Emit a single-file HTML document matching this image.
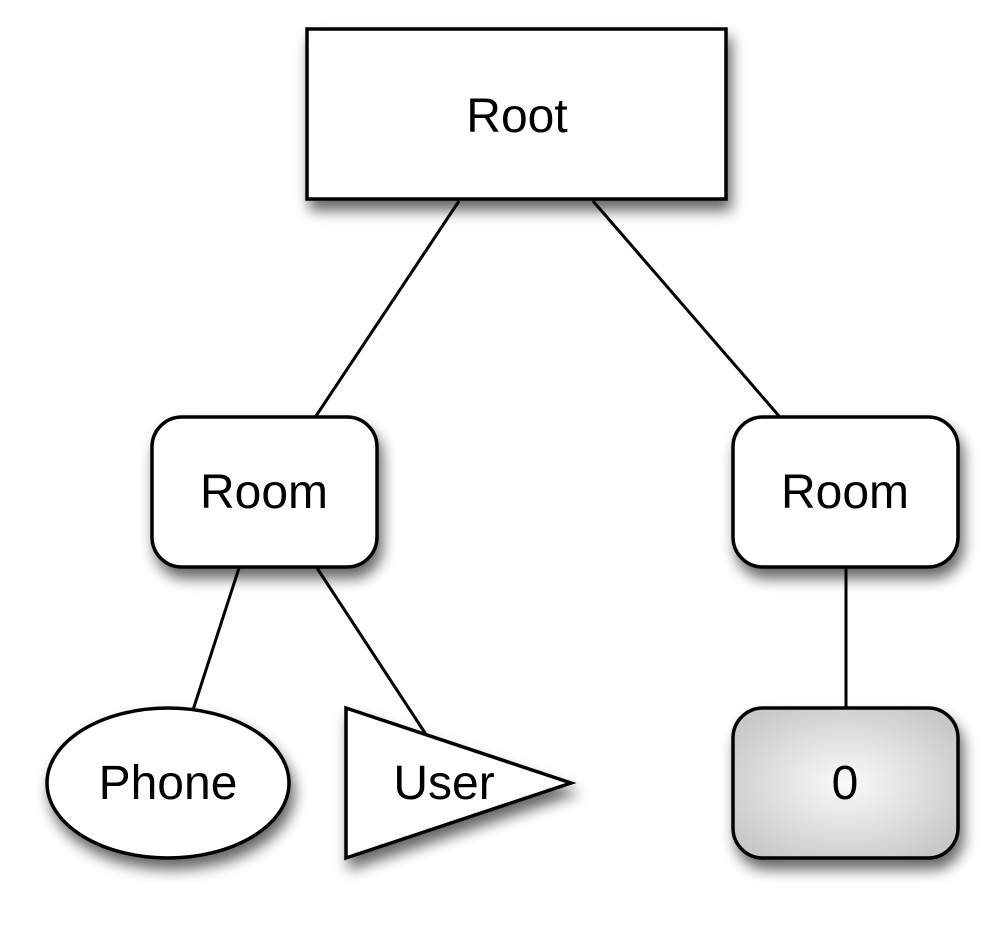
<!DOCTYPE html>
<html><head><style>html,body{margin:0;background:#fff;}</style></head><body>
<svg width="1004" height="920" viewBox="0 0 1004 920" xmlns="http://www.w3.org/2000/svg" font-family="Liberation Sans, sans-serif" font-size="48">
<defs>
<filter id="sh" x="-20%" y="-20%" width="150%" height="160%">
<feGaussianBlur in="SourceAlpha" stdDeviation="7"/>
<feOffset dx="4" dy="10"/>
<feComponentTransfer><feFuncA type="linear" slope="0.6"/></feComponentTransfer>
<feMerge><feMergeNode/><feMergeNode in="SourceGraphic"/></feMerge>
</filter>
<radialGradient id="g" cx="50%" cy="50%" r="60%">
<stop offset="0" stop-color="#fafafa"/><stop offset="1" stop-color="#c8c8c8"/>
</radialGradient>
</defs>
<g stroke="#000" stroke-width="3" fill="none">
<line x1="459" y1="201" x2="316" y2="416"/>
<line x1="593" y1="201" x2="779" y2="416"/>
<line x1="239" y1="568" x2="193" y2="710"/>
<line x1="317" y1="568" x2="427" y2="736"/>
<line x1="846" y1="568" x2="846" y2="708"/>
</g>
<g stroke="#000" stroke-width="3.5" filter="url(#sh)">
<rect x="307" y="29" width="419" height="170" fill="#fff"/>
<rect x="152" y="417" width="225" height="150" rx="30" fill="#fff"/>
<rect x="733" y="417" width="225" height="150" rx="30" fill="#fff"/>
<rect x="733" y="708" width="225" height="150" rx="30" fill="url(#g)"/>
<ellipse cx="168" cy="783" rx="121" ry="75" fill="#fff"/>
<polygon points="346,708 346,858 571,783" fill="#fff"/>
</g>
<g text-anchor="middle" fill="#000">
<text x="517" y="132">Root</text>
<text x="264" y="508">Room</text>
<text x="845" y="508">Room</text>
<text x="845" y="799">0</text>
<text x="168" y="799">Phone</text>
<text x="444" y="799">User</text>
</g>
</svg>
</body></html>
